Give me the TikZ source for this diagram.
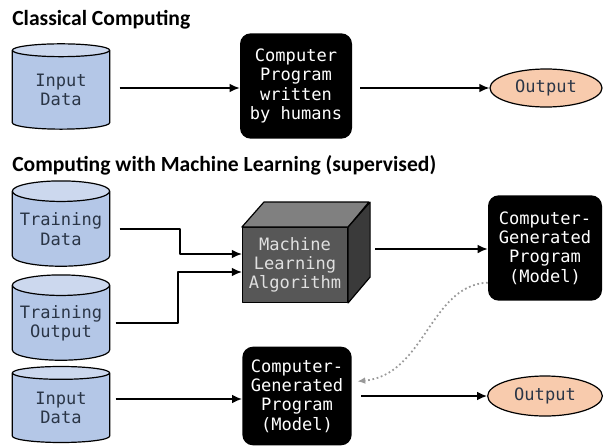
\documentclass[tikz,border=0pt]{standalone}
\usepackage{fontspec}
\setmainfont{Carlito}
\setmonofont{DejaVu Sans Mono}
\usetikzlibrary{shapes.geometric,arrows.meta}
\definecolor{dbblue}{HTML}{B4C7E7}
\definecolor{dbtop}{HTML}{CCD8EE}
\definecolor{dbtext}{HTML}{2A3546}
\definecolor{outfill}{HTML}{F8CBAD}
\definecolor{cubefront}{HTML}{575757}
\definecolor{cubetop}{HTML}{808080}
\definecolor{cubeside}{HTML}{3A3A3A}
\newcommand{\mono}{\ttfamily\fontsize{12.8}{14.5}\selectfont}

\begin{document}
\begin{tikzpicture}[x=0.75pt, y=-0.75pt, line join=round, >={Latex[length=7.5pt,width=6.5pt]},
    title/.style={anchor=west, inner sep=0pt, font=\bfseries\fontsize{16.2}{18}\selectfont},
    db/.style={cylinder, shape border rotate=90, aspect=0.25, draw=black, line width=0.9pt,
        cylinder uses custom fill, cylinder body fill=dbblue, cylinder end fill=dbtop,
        minimum width=73pt, minimum height=64pt, inner sep=0pt, text=dbtext, align=center, font=\mono},
    prog/.style={fill=black, rounded corners=8pt, text=white, align=center, font=\mono,
        minimum width=84pt, minimum height=79pt, inner sep=0pt},
    res/.style={ellipse, draw=black, line width=0.9pt, fill=outfill, text=dbtext, font=\mono,
        minimum width=84pt, minimum height=28.5pt, inner sep=0pt},
    cube/.style={draw=black, line width=0.9pt, fill=cubefront, text=white!88!black, align=center,
        font=\mono, minimum width=78.75pt, minimum height=56pt, inner sep=0pt},
    flow/.style={->, line width=1.2pt},
    dotflow/.style={-{Latex[length=6pt,width=5pt]}, dotted, line width=1.3pt, gray!80}]
    \useasboundingbox (0,0) rectangle (605,446);
    % classical
    \node[title] (t1) at (12,20) {Classical Computing};
    \node[db] (in1) at (61,90) {Input\\Data};
    \node[prog] (prog) at (296,86) {Computer\\Program\\written\\by humans};
    \node[res] (out1) at (546,88) {Output};
    \draw[flow, shorten <=7pt] (in1.east |- 0,88) -- (prog.west |- 0,88);
    \draw[flow, shorten <=6pt] (prog.east |- 0,88) -- (out1.west);
    % machine learning
    \node[title] (t2) at (12,165) {Computing with Machine Learning (supervised)};
    \node[db] (tdata) at (61,229) {Training\\Data};
    \node[db] (tout) at (61,323) {Training\\Output};
    \node[db, minimum height=57pt] (in2) at (61,408) {Input\\Data};
    \node[cube] (mla) at (295,265) {Machine\\Learning\\Algorithm};
    \draw[line width=0.9pt, fill=cubetop] (mla.north west) -- ++(22,-25) -- ++(105,0) -- (mla.north east) -- cycle;
    \draw[line width=0.9pt, fill=cubeside] (mla.north east) -- ++(22,-25) -- ++(0,75) -- (mla.south east) -- cycle;
    \node[prog, minimum width=85.5pt] (model) at (545,248) {Computer-\\Generated\\Program\\(Model)};
    \node[prog, minimum width=82pt, minimum height=74pt] (model2) at (297,396) {Computer-\\Generated\\Program\\(Model)};
    \node[res, minimum width=86pt, minimum height=30pt] (out2) at (545,396) {Output};
    \draw[flow, shorten <=7pt] (tdata.east) -| (180,254) -- (mla.west |- 0,254);
    \draw[flow, shorten <=4pt] (tout.east) -| (178,272) -- (mla.west |- 0,272);
    \draw[flow] (375,249) -- (model.west |- 0,249);
    \draw[flow, shorten <=4pt] (in2.east |- 0,399) -- (model2.west |- 0,399);
    \draw[flow, shorten <=7pt] (model2.east) -- (out2.west);
    \draw[dotflow] ([yshift=-26pt]model.west) .. controls (430,285) and (425,375) .. ([shift={(4pt,11pt)}]model2.east);
\end{tikzpicture}
\end{document}
